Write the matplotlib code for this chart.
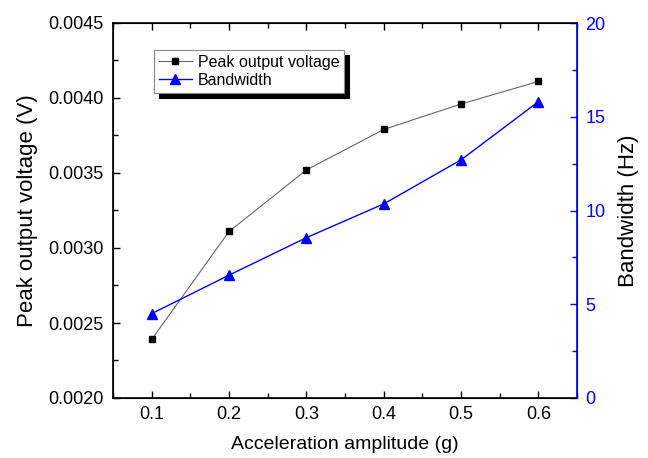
import matplotlib.pyplot as plt
from matplotlib.ticker import MultipleLocator

plt.rcParams["font.family"] = ["Liberation Sans", "DejaVu Sans"]

# data
accel = [0.1, 0.2, 0.3, 0.4, 0.5, 0.6]
voltage = [0.00239, 0.00311, 0.00352, 0.00379, 0.00396, 0.00411]
bandwidth = [4.5, 6.55, 8.55, 10.35, 12.7, 15.8]

fig = plt.figure(figsize=(6.48, 4.58), dpi=100)
ax = fig.add_axes([113 / 648, 60 / 458, 464 / 648, 375 / 458])
ax2 = ax.twinx()

l1, = ax.plot(accel, voltage, color="#666666", linewidth=0.8, marker="s",
              markersize=5, markerfacecolor="black", markeredgecolor="black",
              label="Peak output voltage")
l2, = ax2.plot(accel, bandwidth, color="blue", linewidth=1.0, marker="^",
               markersize=6.5, markerfacecolor="blue", markeredgecolor="blue",
               label="Bandwidth")

ax.set_xlim(0.05, 0.65)
ax.set_ylim(0.0020, 0.0045)
ax2.set_ylim(0, 20)

ax.xaxis.set_major_locator(MultipleLocator(0.1))
ax.xaxis.set_minor_locator(MultipleLocator(0.05))
ax.yaxis.set_major_locator(MultipleLocator(0.0005))
ax.yaxis.set_minor_locator(MultipleLocator(0.00025))
ax2.yaxis.set_major_locator(MultipleLocator(5))
ax2.yaxis.set_minor_locator(MultipleLocator(2.5))
ax.yaxis.set_major_formatter(plt.FuncFormatter(lambda v, p: f"{v:.4f}"))
ax.xaxis.set_major_formatter(plt.FuncFormatter(lambda v, p: f"{v:.1f}"))

ax.tick_params(which="both", direction="in", top=True, labelsize=13, width=1.0)
ax.tick_params(which="major", length=5)
ax.tick_params(which="minor", length=3.5)
ax.tick_params(axis="x", pad=6)
ax.tick_params(axis="y", pad=7)
ax2.tick_params(which="both", direction="in", colors="blue", labelsize=13, width=1.0, pad=6)
ax2.tick_params(which="major", length=5)
ax2.tick_params(which="minor", length=3.5)
ax2.spines["right"].set_color("blue")
ax2.spines["right"].set_linewidth(1.2)
for s in ["left", "bottom", "top"]:
    ax.spines[s].set_linewidth(1.2)

ax.set_xlabel("Acceleration amplitude (g)", fontsize=14, labelpad=9)
ax.set_ylabel("Peak output voltage (V)", fontsize=16, labelpad=7)
ax2.set_ylabel("Bandwidth (Hz)", fontsize=16, labelpad=9, color="black")

leg = ax.legend(handles=[l1, l2], loc="upper left", bbox_to_anchor=(0.088, 0.928),
                borderaxespad=0, fontsize=11.5, frameon=True,
                shadow={"color": "black", "alpha": 1, "ox": 3.5, "oy": -3.5},
                fancybox=False, edgecolor="#888888", borderpad=0.3,
                handlelength=2.1, handletextpad=0.35, labelspacing=0.2)
leg.get_frame().set_linewidth(0.8)

plt.savefig("out.png", dpi=100)
